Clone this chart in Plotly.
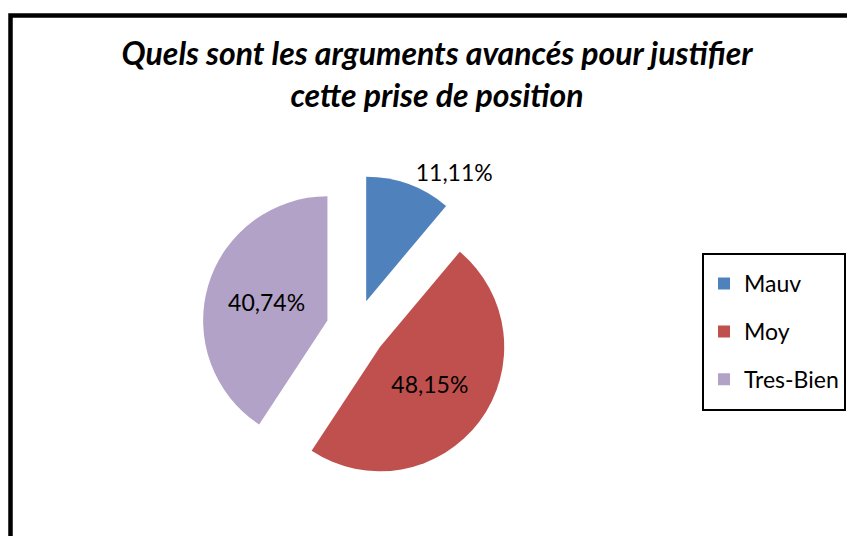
import plotly.graph_objects as go

categories = ["Mauv", "Moy", "Tres-Bien"]
values = [11.11, 48.15, 40.74]
colors = ["#4F81BD", "#C0504D", "#B3A2C7"]
title_text = "Quels sont les arguments avancés pour justifier<br>cette prise de position"

# the page body has an 8px margin, so the figure is sized to fill the rest of the window
W, H = 847, 528

legend_labels = [
    f"<span style='font-size:23px;baseline-shift:5px'>{c}</span>" for c in categories
]

fig = go.Figure()
fig.add_trace(go.Pie(
    labels=legend_labels,
    values=values,
    sort=False,
    direction="clockwise",
    rotation=0,
    pull=[0.24, 0.24, 0.24],
    marker=dict(colors=colors, line=dict(width=0)),
    texttemplate="%{value:.2f}%",
    textposition=["outside", "inside", "inside"],
    insidetextorientation="horizontal",
    textfont=dict(family="Lato", size=23, color="black"),
    domain=dict(x=[193 / W, 503 / W], y=[1 - 478 / H, 1 - 168 / H]),
    hoverinfo="percent",
))

fig.update_layout(
    width=W, height=H,
    separators=", ",
    margin=dict(l=0, r=0, t=0, b=0),
    paper_bgcolor="white",
    plot_bgcolor="white",
    title=dict(
        text=title_text,
        x=429 / W, xanchor="center",
        y=1 - 57 / H, yanchor="middle",
        font=dict(family="Lato", size=32, color="black", weight="bold", style="italic"),
    ),
    legend=dict(
        x=694 / W, xanchor="left",
        y=1 - 246 / H, yanchor="top",
        bordercolor="black", borderwidth=2,
        bgcolor="white",
        font=dict(family="Lato", size=34.5, color="black"),
    ),
    showlegend=True,
    shapes=[
        dict(type="rect", xref="paper", yref="paper",
             x0=2.5 / W, x1=1.05, y0=-0.05, y1=1 - 7.5 / H,
             line=dict(color="black", width=4.5), layer="above"),
    ],
)

fig.write_html("out.html")
